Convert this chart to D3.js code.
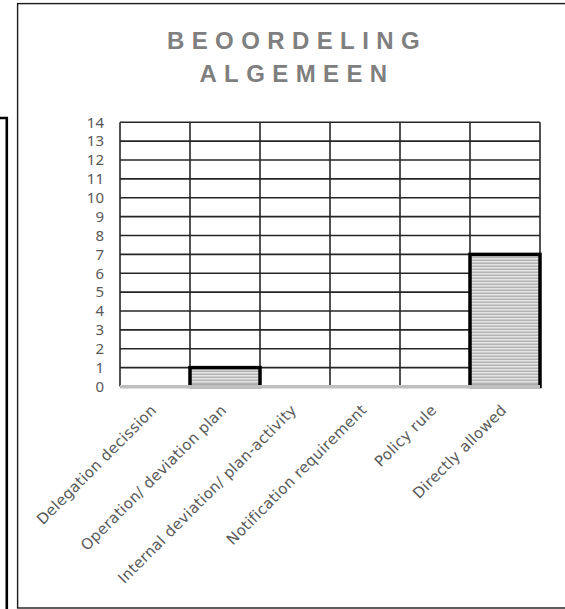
<!DOCTYPE html>
<html>
<head>
<meta charset="utf-8">
<script src="https://cdn.jsdelivr.net/npm/d3@7"></script>
<style>
  html, body { margin: 0; padding: 0; background: #fff; }
  svg { display: block; }
</style>
</head>
<body>
<svg id="chart" width="565" height="609"></svg>
<script>
// Chart data
const categories = [
  "Delegation decission",
  "Operation/ deviation plan",
  "Internal deviation/ plan-activity",
  "Notification requirement",
  "Policy rule",
  "Directly allowed"
];
const counts = [0, 1, 0, 0, 0, 7];
const yTicks = [0, 1, 2, 3, 4, 5, 6, 7, 8, 9, 10, 11, 12, 13, 14];
const titleLines = ["BEOORDELING", "ALGEMEEN"];

const svg = d3.select("#chart");

// Plot geometry
const plot = { left: 120, right: 540, top: 122.3, bottom: 386.5 };

const x = d3.scaleBand().domain(categories).range([plot.left, plot.right]).padding(0);
const y = d3.scaleLinear().domain([0, 14]).range([plot.bottom, plot.top]);

// Striped fill for the bars
const defs = svg.append("defs");
const pat = defs.append("pattern")
  .attr("id", "stripes")
  .attr("patternUnits", "userSpaceOnUse")
  .attr("width", 4).attr("height", 3);
pat.append("rect").attr("width", 4).attr("height", 3).attr("fill", "#cdcdcd");
pat.append("rect").attr("y", 0).attr("width", 4).attr("height", 1).attr("fill", "#e4e4e4");
pat.append("rect").attr("y", 2).attr("width", 4).attr("height", 1).attr("fill", "#b3b3b3");

// Neighbouring frame edge on the far left
svg.append("path")
  .attr("d", "M0,118 H6.8 V609")
  .attr("fill", "none")
  .attr("stroke", "#000")
  .attr("stroke-width", 2.6);

// Chart frame
svg.append("rect")
  .attr("x", 17.6).attr("y", 3.6)
  .attr("width", 620).attr("height", 604.4)
  .attr("fill", "#fff")
  .attr("stroke", "#1a1a1a")
  .attr("stroke-width", 1.4);

// Title
const title = svg.append("text")
  .style("font-family", "'Liberation Sans', Arial, sans-serif")
  .style("font-weight", "bold")
  .style("font-size", "24px")
  .style("letter-spacing", "7.4px")
  .attr("fill", "#7f7f7f")
  .attr("text-anchor", "middle");
titleLines.forEach((t, i) => {
  title.append("tspan")
    .attr("x", 297)
    .attr("y", 49.4 + i * 32.3)
    .text(t);
});

// Horizontal gridlines
svg.append("g")
  .selectAll("line")
  .data(yTicks.filter(v => v > 0))
  .join("line")
  .attr("x1", plot.left).attr("x2", plot.right)
  .attr("y1", d => y(d)).attr("y2", d => y(d))
  .attr("stroke", "#262626")
  .attr("stroke-width", 1.6);

// Vertical gridlines at category boundaries
const bounds = categories.map(c => x(c)).concat([x.range()[1]]);
svg.append("g")
  .selectAll("line")
  .data(bounds)
  .join("line")
  .attr("x1", d => d).attr("x2", d => d)
  .attr("y1", plot.top).attr("y2", plot.bottom)
  .attr("stroke", "#262626")
  .attr("stroke-width", 1.6);

// Bars
svg.append("g")
  .selectAll("rect")
  .data(categories.map((c, i) => ({ c, v: counts[i] })).filter(d => d.v > 0))
  .join("rect")
  .attr("x", d => x(d.c))
  .attr("y", d => y(d.v))
  .attr("width", x.bandwidth())
  .attr("height", d => y(0) - y(d.v))
  .attr("fill", "url(#stripes)")
  .attr("stroke", "#000")
  .attr("stroke-width", 3.5);

// Baseline
svg.append("line")
  .attr("x1", plot.left).attr("x2", plot.right)
  .attr("y1", y(0) + 0.2).attr("y2", y(0) + 0.2)
  .attr("stroke", "#bfbfbf")
  .attr("stroke-width", 3.6);

// Y axis labels
const yAxis = d3.axisLeft(y).tickValues(yTicks).tickSize(0).tickPadding(16);
const gy = svg.append("g")
  .attr("transform", `translate(${plot.left},0)`)
  .call(yAxis);
gy.select(".domain").remove();
gy.attr("font-family", null).attr("font-size", null);
gy.selectAll("text")
  .style("font-family", "'Noto Sans', 'Open Sans', sans-serif")
  .style("font-size", "15px")
  .attr("fill", "#595959");

// X axis labels, rotated
svg.append("g")
  .selectAll("text")
  .data(categories)
  .join("text")
  .attr("transform", d => `translate(${x(d) + x.bandwidth() / 2 + 2.5},411) rotate(-45)`)
  .attr("text-anchor", "end")
  .style("font-family", "'DejaVu Sans', Verdana, sans-serif")
  .style("font-size", "15px")
  .style("letter-spacing", "0.3px")
  .attr("fill", "#595959")
  .text(d => d);
</script>
</body>
</html>
